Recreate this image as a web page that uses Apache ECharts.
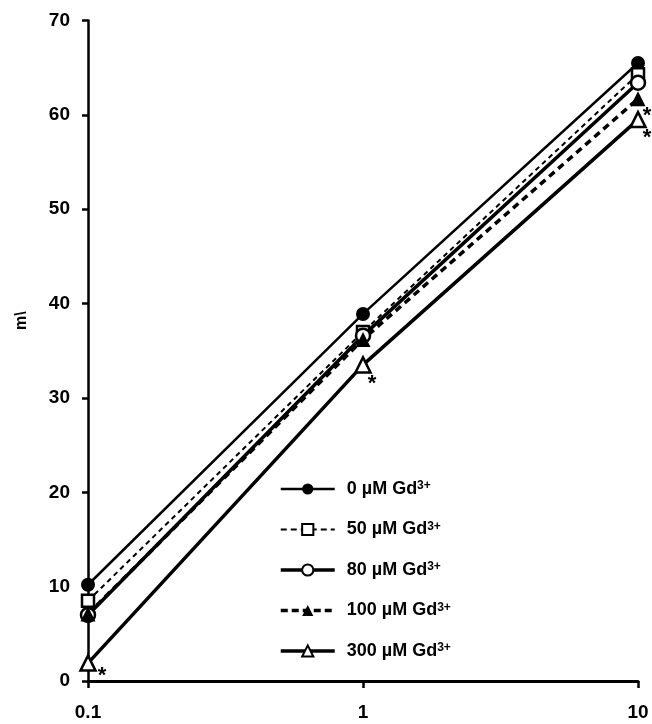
<!DOCTYPE html>
<html>
<head>
<meta charset="utf-8">
<script src="https://cdn.jsdelivr.net/npm/echarts@6/dist/echarts.min.js"></script>
<style>
  html, body { margin: 0; padding: 0; background: #fff; }
  #main { width: 652px; height: 724px; }
</style>
</head>
<body>
<div id="main"></div>
<script>
// concentrations on the x axis (log scale)
var xValues = [0.1, 1, 10];

var seriesNames = ['0 µM Gd3+', '50 µM Gd3+', '80 µM Gd3+', '100 µM Gd3+', '300 µM Gd3+'];
var gd0 = [10.2, 38.9, 65.5];
var gd50 = [8.5, 37.0, 64.3];
var gd80 = [7.0, 36.6, 63.4];
var gd100 = [7.1, 36.2, 61.7];
var gd300 = [1.9, 33.5, 59.5];
// asterisk flags
var sig0 = [0, 0, 0];
var sig50 = [0, 0, 0];
var sig80 = [0, 0, 0];
var sig100 = [0, 0, 1];
var sig300 = [1, 1, 1];

var font = 'Liberation Sans, Arial, sans-serif';

function makeData(ys, sig) {
  return xValues.map(function (x, i) {
    var d = { value: [x, ys[i]] };
    if (sig[i]) {
      d.label = {
        show: true,
        formatter: '*',
        position: 'bottom',
        offset: i === 0 ? [14, -12] : [9, -6],
        fontSize: 22,
        fontWeight: 'bold',
        color: '#000',
        fontFamily: font
      };
    }
    return d;
  });
}

function makeSeries(name, ys, sig, lineWidth, dash, symbol, size, filled) {
  return {
    name: name,
    type: 'line',
    data: makeData(ys, sig),
    symbol: symbol,
    symbolSize: size,
    showAllSymbol: true,
    lineStyle: { color: '#000', width: lineWidth, type: dash || 'solid' },
    itemStyle: {
      color: filled ? '#000' : '#fff',
      borderColor: '#000',
      borderWidth: filled ? 0 : 2.5
    },
    label: { show: false },
    emphasis: { disabled: true },
    animation: false
  };
}

var legendLines = [
  { width: 2.5, type: 'solid' },
  { width: 2, type: [6, 4] },
  { width: 3.5, type: 'solid' },
  { width: 3.5, type: [7, 4] },
  { width: 3.5, type: 'solid' }
];

var chart = echarts.init(document.getElementById('main'));
chart.setOption({
  backgroundColor: '#fff',
  grid: { left: 88, right: 14, top: 20.5, bottom: 43 },
  xAxis: {
    type: 'log',
    min: 0.1,
    max: 10,
    logBase: 10,
    axisLine: { lineStyle: { color: '#000', width: 3 } },
    axisTick: { lineStyle: { color: '#000', width: 2.5 }, length: 7 },
    splitLine: { show: false },
    axisLabel: {
      color: '#000', fontSize: 19, fontWeight: 'bold', fontFamily: font, margin: 22,
      formatter: function (v) { return String(v); }
    }
  },
  yAxis: {
    type: 'value',
    min: 0,
    max: 70,
    interval: 10,
    name: 'm\\',
    nameLocation: 'middle',
    nameRotate: 90,
    nameGap: 58,
    nameTextStyle: {
      color: '#000', fontSize: 16, fontWeight: 'bold', fontFamily: font,
      padding: [0, 0, 0, 60]
    },
    axisLine: { show: true, lineStyle: { color: '#000', width: 2.5 } },
    axisTick: { show: true, lineStyle: { color: '#000', width: 2.5 }, length: 6 },
    splitLine: { show: false },
    axisLabel: { color: '#000', fontSize: 19, fontWeight: 'bold', fontFamily: font, margin: 18 }
  },
  legend: {
    orient: 'vertical',
    left: 274,
    top: 475,
    itemWidth: 54,
    itemHeight: 14,
    itemGap: 22.5,
    data: seriesNames.map(function (n, i) {
      return { name: n, lineStyle: legendLines[i] };
    }),
    formatter: function (n) { return n.replace('3+', '{sup|3+}'); },
    textStyle: {
      color: '#000', fontSize: 18, fontWeight: 'bold', fontFamily: font,
      padding: [0, 0, 0, 7],
      rich: { sup: { fontSize: 12, fontWeight: 'bold', verticalAlign: 'top', padding: [0, 0, 6, 0], fontFamily: font } }
    }
  },
  series: [
    makeSeries(seriesNames[0], gd0, sig0, 2.5, null, 'circle', 14, true),
    makeSeries(seriesNames[1], gd50, sig50, 2, [5, 4], 'rect', 12, false),
    makeSeries(seriesNames[2], gd80, sig80, 3.5, null, 'circle', 14, false),
    makeSeries(seriesNames[3], gd100, sig100, 3.5, [7, 5], 'triangle', 15, true),
    makeSeries(seriesNames[4], gd300, sig300, 3.5, null, 'triangle', 15, false)
  ]
});
</script>
</body>
</html>
